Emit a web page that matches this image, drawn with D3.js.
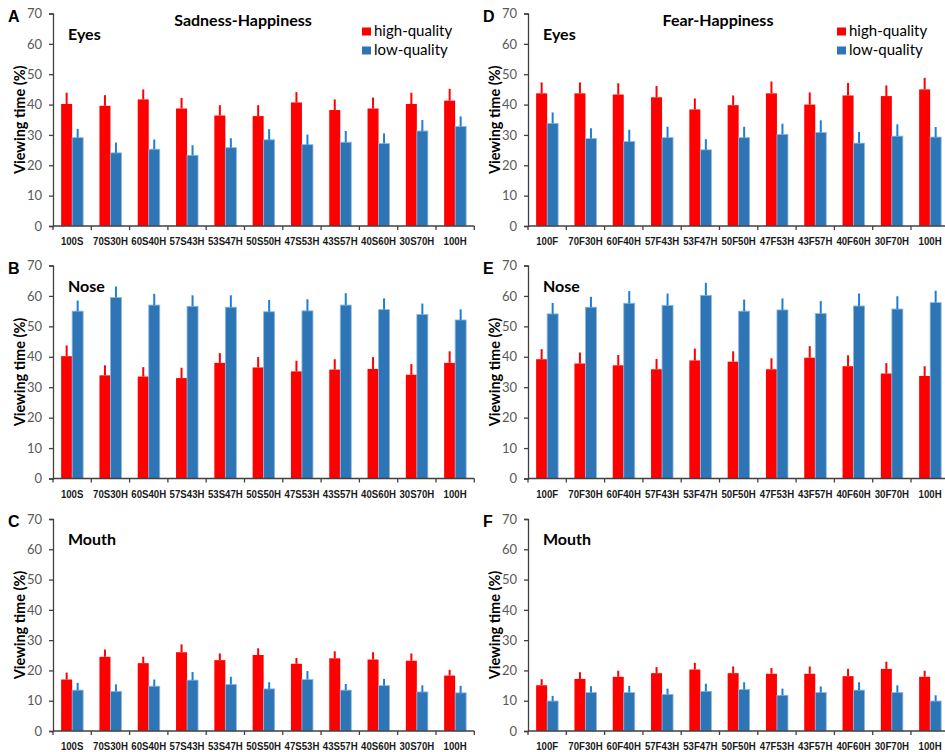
<!DOCTYPE html>
<html>
<head>
<meta charset="utf-8">
<script src="https://cdn.jsdelivr.net/npm/d3@7"></script>
<style>
  body { margin: 0; background: #fff; }
  svg { display: block; }
</style>
</head>
<body>
<svg id="canvas"></svg>
<script>
// categories
let sadCats = ["100S", "70S30H", "60S40H", "57S43H", "53S47H", "50S50H", "47S53H", "43S57H", "40S60H", "30S70H", "100H"];
let fearCats = ["100F", "70F30H", "60F40H", "57F43H", "53F47H", "50F50H", "47F53H", "43F57H", "40F60H", "30F70H", "100H"];
let yTicks = [0, 10, 20, 30, 40, 50, 60, 70];

// Sadness-Happiness, means and error (SE, drawn upward only)
let sadEyesHigh    = [40.2, 39.6, 41.7, 38.7, 36.4, 36.2, 40.7, 38.2, 38.7, 40.2, 41.3];
let sadEyesHighErr = [3.7, 3.5, 3.3, 3.5, 3.4, 3.6, 3.4, 3.5, 3.6, 3.7, 3.9];
let sadEyesLow     = [29.1, 24.1, 25.3, 23.3, 25.8, 28.4, 26.8, 27.6, 27.2, 31.3, 32.8];
let sadEyesLowErr  = [2.9, 3.4, 3.2, 3.3, 3.1, 3.5, 3.3, 3.7, 3.3, 3.6, 3.3];

let sadNoseHigh    = [40.2, 33.9, 33.5, 33.0, 38.0, 36.5, 35.2, 35.8, 36.0, 34.1, 38.0];
let sadNoseHighErr = [3.5, 3.3, 3.1, 3.4, 3.2, 3.4, 3.5, 3.4, 3.9, 3.5, 3.8];
let sadNoseLow     = [55.0, 59.5, 57.0, 56.6, 56.3, 54.8, 55.1, 57.0, 55.5, 53.9, 52.1];
let sadNoseLowErr  = [3.5, 3.6, 3.7, 3.6, 3.9, 3.9, 3.8, 3.9, 3.7, 3.6, 3.5];

let sadMouthHigh    = [17.0, 24.5, 22.4, 26.0, 23.4, 25.1, 22.2, 24.0, 23.6, 23.2, 18.3];
let sadMouthHighErr = [2.3, 2.4, 2.1, 2.6, 2.2, 2.2, 1.9, 2.3, 2.4, 2.4, 1.9];
let sadMouthLow     = [13.5, 13.1, 14.8, 16.8, 15.4, 13.9, 17.0, 13.5, 15.0, 12.9, 12.6];
let sadMouthLowErr  = [2.4, 2.3, 2.2, 2.7, 2.5, 2.2, 2.8, 2.0, 2.2, 2.2, 2.3];

// Fear-Happiness
let fearEyesHigh    = [43.7, 43.7, 43.3, 42.4, 38.4, 39.8, 43.7, 40.0, 43.0, 42.8, 45.0];
let fearEyesHighErr = [3.6, 3.6, 3.7, 3.7, 3.6, 3.2, 3.9, 4.0, 4.1, 3.5, 3.8];
let fearEyesLow     = [33.8, 28.8, 27.8, 29.1, 25.1, 29.1, 30.2, 30.8, 27.3, 29.6, 29.3];
let fearEyesLowErr  = [3.6, 3.4, 3.9, 3.6, 3.5, 3.6, 3.5, 4.0, 3.7, 3.9, 3.3];

let fearNoseHigh    = [39.2, 37.8, 37.2, 35.9, 38.8, 38.4, 35.9, 39.7, 36.9, 34.5, 33.7];
let fearNoseHighErr = [3.3, 3.6, 3.4, 3.4, 3.9, 3.4, 3.6, 3.8, 3.6, 3.4, 3.2];
let fearNoseLow     = [54.1, 56.3, 57.6, 56.9, 60.2, 55.0, 55.4, 54.2, 56.7, 55.7, 57.8];
let fearNoseLowErr  = [3.6, 3.4, 4.0, 3.9, 4.1, 3.8, 3.8, 4.1, 4.1, 4.2, 3.9];

let fearMouthHigh    = [15.1, 17.2, 17.9, 19.1, 20.3, 19.1, 18.9, 18.9, 18.1, 20.5, 17.9];
let fearMouthHighErr = [2.0, 2.2, 2.0, 2.0, 2.2, 2.2, 1.9, 2.4, 2.4, 2.4, 2.0];
let fearMouthLow     = [9.9, 12.7, 12.7, 12.1, 13.1, 13.7, 11.8, 12.7, 13.5, 12.7, 9.9];
let fearMouthLowErr  = [1.7, 2.1, 2.2, 1.9, 2.5, 2.4, 2.2, 2.0, 2.6, 2.4, 1.9];

let width = 945;
let height = 752;

let red = "#ff0000";
let blue = "#2e75b6";
let blueErr = "#1a7fd6";
let axisColor = "#404040";

let canvas = d3.select("#canvas")
    .attr("width", width)
    .attr("height", height);

// panel layout (left x of axis, top = 70, bottom = 0)
let colX = [53, 528];
let rowTop = [13.5, 265.5, 519];
let rowBottom = [226, 478.5, 731];
let step = 38.3;

let panels = [
    {letter: "A", col: 0, row: 0, region: "Eyes",  cats: sadCats,  high: sadEyesHigh,   highErr: sadEyesHighErr,   low: sadEyesLow,   lowErr: sadEyesLowErr,   title: "Sadness-Happiness"},
    {letter: "B", col: 0, row: 1, region: "Nose",  cats: sadCats,  high: sadNoseHigh,   highErr: sadNoseHighErr,   low: sadNoseLow,   lowErr: sadNoseLowErr},
    {letter: "C", col: 0, row: 2, region: "Mouth", cats: sadCats,  high: sadMouthHigh,  highErr: sadMouthHighErr,  low: sadMouthLow,  lowErr: sadMouthLowErr},
    {letter: "D", col: 1, row: 0, region: "Eyes",  cats: fearCats, high: fearEyesHigh,  highErr: fearEyesHighErr,  low: fearEyesLow,  lowErr: fearEyesLowErr,  title: "Fear-Happiness"},
    {letter: "E", col: 1, row: 1, region: "Nose",  cats: fearCats, high: fearNoseHigh,  highErr: fearNoseHighErr,  low: fearNoseLow,  lowErr: fearNoseLowErr},
    {letter: "F", col: 1, row: 2, region: "Mouth", cats: fearCats, high: fearMouthHigh, highErr: fearMouthHighErr, low: fearMouthLow, lowErr: fearMouthLowErr}
];

let drawPanel = (p) => {
    let x0 = colX[p.col];
    let top = rowTop[p.row];
    let bottom = rowBottom[p.row];

    let xScale = d3.scaleBand()
        .domain(p.cats)
        .range([x0, x0 + step * p.cats.length]);

    let inner = d3.scaleBand()
        .domain(["high", "low"])
        .range([0, xScale.bandwidth()])
        .paddingOuter(0.74);

    let yScale = d3.scaleLinear()
        .domain([0, 70])
        .range([bottom, top]);

    let g = canvas.append("g");

    let rows = p.cats.map((c, i) => ({cat: c, high: p.high[i], highErr: p.highErr[i], low: p.low[i], lowErr: p.lowErr[i]}));

    // bars
    [["high", red], ["low", blue]].forEach(([key, color]) => {
        g.selectAll(".bar-" + key)
            .data(rows)
            .enter()
            .append("rect")
            .attr("class", "bar-" + key)
            .attr("x", (d) => xScale(d.cat) + inner(key))
            .attr("width", inner.bandwidth())
            .attr("y", (d) => yScale(d[key]))
            .attr("height", (d) => yScale(0) - yScale(d[key]))
            .attr("fill", color)
            .attr("stroke", key == "low" ? "#8fb8e0" : "none")
            .attr("stroke-width", key == "low" ? 0.8 : 0);

        // error bars, upward only
        g.selectAll(".err-" + key)
            .data(rows)
            .enter()
            .append("line")
            .attr("x1", (d) => xScale(d.cat) + inner(key) + inner.bandwidth() / 2)
            .attr("x2", (d) => xScale(d.cat) + inner(key) + inner.bandwidth() / 2)
            .attr("y1", (d) => yScale(d[key]))
            .attr("y2", (d) => yScale(d[key] + d[key + "Err"]))
            .attr("stroke", key == "low" ? blueErr : red)
            .attr("stroke-width", 2);
    });

    // y axis
    let yAxis = d3.axisLeft(yScale)
        .tickValues(yTicks)
        .tickSize(4)
        .tickPadding(7)
        .tickFormat(d3.format("d"));

    let ya = g.append("g")
        .attr("transform", "translate(" + x0 + ",0)")
        .call(yAxis);
    ya.select(".domain").attr("stroke", axisColor).attr("stroke-width", 1.3);
    ya.selectAll(".tick line").attr("stroke", axisColor).attr("stroke-width", 1.3);
    ya.selectAll(".tick text")
        .attr("fill", "#595959")
        .attr("font-family", "Lato, 'Open Sans', sans-serif")
        .attr("font-size", "13px");

    // x axis: labels centred, ticks at the category boundaries
    let xAxis = d3.axisBottom(xScale)
        .tickSize(0)
        .tickPadding(11);

    let xa = g.append("g")
        .attr("transform", "translate(0," + bottom + ")")
        .call(xAxis);
    xa.select(".domain").remove();
    xa.selectAll(".tick text")
        .attr("fill", "#1a1a1a")
        .attr("font-family", "'Liberation Sans', Arial, sans-serif")
        .attr("font-weight", "bold")
        .attr("font-size", "11.5px")
        .attr("transform", "scale(0.84,1)"); // narrow look

    let range = xScale.range();
    g.append("line")
        .attr("x1", range[0]).attr("x2", range[1])
        .attr("y1", bottom).attr("y2", bottom)
        .attr("stroke", axisColor).attr("stroke-width", 1.3);

    let bounds = p.cats.map((c) => xScale(c)).concat([range[1]]);
    g.selectAll(".xtick")
        .data(bounds)
        .enter()
        .append("line")
        .attr("x1", (d) => d).attr("x2", (d) => d)
        .attr("y1", bottom).attr("y2", bottom + 4)
        .attr("stroke", axisColor).attr("stroke-width", 1.3);

    // y label
    g.append("text")
        .text("Viewing time (%)")
        .attr("transform", "translate(" + (x0 - 28) + "," + ((top + bottom) / 2) + ") rotate(-90)")
        .attr("text-anchor", "middle")
        .attr("font-family", "Lato, 'Open Sans', sans-serif")
        .attr("font-weight", "bold")
        .attr("font-size", "14.5px")
        .attr("fill", "#000");

    // panel letter
    g.append("text")
        .text(p.letter)
        .attr("x", x0 - 45)
        .attr("y", top + 8)
        .attr("font-family", "'Liberation Sans', Arial, sans-serif")
        .attr("font-weight", "bold")
        .attr("font-size", "16px")
        .attr("fill", "#000");

    // region name
    g.append("text")
        .text(p.region)
        .attr("x", x0 + 15)
        .attr("y", top + 26)
        .attr("font-family", "Lato, 'Open Sans', sans-serif")
        .attr("font-weight", "bold")
        .attr("font-size", "16px")
        .attr("fill", "#000");

    if (p.title) {
        g.append("text")
            .text(p.title)
            .attr("x", x0 + 190)
            .attr("y", top + 12)
            .attr("text-anchor", "middle")
            .attr("font-family", "Lato, 'Open Sans', sans-serif")
            .attr("font-weight", "bold")
            .attr("font-size", "16px")
            .attr("fill", "#000");

        let legend = [["high-quality", red], ["low-quality", blue]];
        legend.forEach(([label, color], i) => {
            g.append("rect")
                .attr("x", x0 + 309)
                .attr("y", top + 14 + i * 19)
                .attr("width", 9)
                .attr("height", 8)
                .attr("fill", color);
            g.append("text")
                .text(label)
                .attr("x", x0 + 321)
                .attr("y", top + 22 + i * 19)
                .attr("font-family", "Lato, 'Open Sans', sans-serif")
                .attr("font-size", "15px")
                .attr("fill", "#000");
        });
    }
};

panels.forEach(drawPanel);
</script>
</body>
</html>
